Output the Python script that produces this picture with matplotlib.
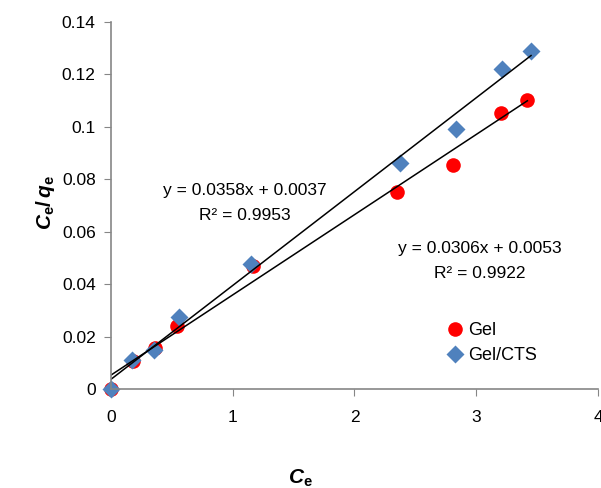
import numpy as np
import matplotlib
matplotlib.use('Agg')
import matplotlib.pyplot as plt

plt.rcParams['font.family'] = ['Liberation Sans', 'DejaVu Sans']
plt.rcParams['mathtext.fontset'] = 'custom'
plt.rcParams['mathtext.rm'] = 'Liberation Sans'
plt.rcParams['mathtext.it'] = 'Liberation Sans:italic'
plt.rcParams['mathtext.bf'] = 'Liberation Sans:bold'
plt.rcParams['mathtext.bfit'] = 'Liberation Sans:bold:italic'

# data
gel_ce = [0.0, 0.18, 0.36, 0.545, 1.17, 2.35, 2.81, 3.20, 3.42]
gel_ratio = [0.0, 0.0105, 0.0158, 0.0239, 0.0470, 0.0750, 0.0855, 0.1054, 0.1103]
cts_ce = [0.0, 0.175, 0.356, 0.56, 1.15, 2.37, 2.83, 3.21, 3.45]
cts_ratio = [0.0, 0.0112, 0.0148, 0.0274, 0.0477, 0.0862, 0.0991, 0.1220, 0.1288]

gel_fit = (0.0306, 0.0053)
cts_fit = (0.0358, 0.0037)

fig = plt.figure(figsize=(6.01, 4.88), dpi=100)
ax = fig.add_axes([0.1847, 0.2029, 0.8103, 0.752])

ax.plot(gel_ce, gel_ratio, 'o', color='#ff0000', markersize=10.5, mec='none', label='Gel', clip_on=False)
ax.plot(cts_ce, cts_ratio, 'D', color='#4f81bd', markersize=9, mec='none', label='Gel/CTS', clip_on=False)

xs = np.array([0, max(gel_ce)])
ax.plot(xs, gel_fit[0] * xs + gel_fit[1], color='black', lw=1.1)
xs = np.array([0, max(cts_ce)])
ax.plot(xs, cts_fit[0] * xs + cts_fit[1], color='black', lw=1.1)

ax.set_xlim(0, 4)
ax.set_ylim(0, 0.14)
ax.set_xticks([0, 1, 2, 3, 4])
ax.set_yticks([0, 0.02, 0.04, 0.06, 0.08, 0.1, 0.12, 0.14])
ax.set_yticklabels(['0', '0.02', '0.04', '0.06', '0.08', '0.1', '0.12', '0.14'])
for s in ['top', 'right']:
    ax.spines[s].set_visible(False)
for s in ['left', 'bottom']:
    ax.spines[s].set_color('#868686')
    ax.spines[s].set_linewidth(1.2)
ax.tick_params(direction='out', length=5, color='#868686', labelsize=12.5, pad=6)
ax.tick_params(axis='x', pad=10)

ax.text(1.1, 0.0758, 'y = 0.0358x + 0.0037', fontsize=12.5, ha='center', va='center')
ax.text(1.1, 0.0662, 'R² = 0.9953', fontsize=12.5, ha='center', va='center')
ax.text(3.03, 0.0537, 'y = 0.0306x + 0.0053', fontsize=12.5, ha='center', va='center')
ax.text(3.03, 0.0442, 'R² = 0.9922', fontsize=12.5, ha='center', va='center')

ax.legend(loc='center left', bbox_to_anchor=(0.67, 0.125), frameon=False, fontsize=13,
          handletextpad=0.1, labelspacing=0.45, borderaxespad=0, handlelength=1.2)

fig.text(0.5, 0.02, r'$\mathbfit{C}_{\mathbf{e}}$', fontsize=15, ha='center', va='center')
fig.text(0.075, 0.585, r'$\mathbfit{C}_{\mathbf{e}}\mathbf{/\,}\mathbfit{q}_{\mathbf{e}}$', fontsize=15,
         rotation=90, ha='center', va='center')

fig.savefig('out.png', dpi=100)
